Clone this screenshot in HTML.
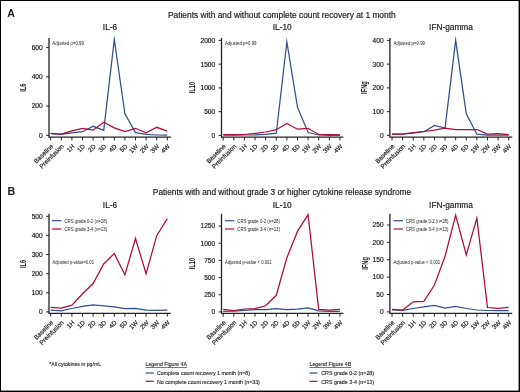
<!DOCTYPE html>
<html><head><meta charset="utf-8"><style>
html,body{margin:0;padding:0;background:#fff;}
svg{display:block;}
text{font-family:"Liberation Sans", sans-serif;fill:#1a1a1a;}
.w{stroke:#1a1a1a;stroke-width:0.18px;}
.v{stroke:#1a1a1a;stroke-width:0.1px;}
</style></head><body>
<svg width="520" height="392" viewBox="0 0 520 392">
<defs><filter id="tb" x="-5%" y="-5%" width="110%" height="110%"><feGaussianBlur stdDeviation="0.3"/></filter></defs>
<rect x="0" y="0" width="520" height="392" fill="#fff"/>
<rect x="0" y="0" width="520" height="1" fill="#000"/><rect x="0" y="0" width="1" height="392" fill="#000"/><rect x="518.6" y="0" width="1.4" height="392" fill="#000"/><rect x="0" y="390.6" width="520" height="1.4" fill="#000"/>
<g>
<path d="M49.0 38.0 V137.1 H170.80" fill="none" stroke="#222" stroke-width="1.3"/>
<path d="M46.10 135.30 H49.0" stroke="#222" stroke-width="1"/>
<path d="M46.10 106.07 H49.0" stroke="#222" stroke-width="1"/>
<path d="M46.10 76.84 H49.0" stroke="#222" stroke-width="1"/>
<path d="M46.10 47.61 H49.0" stroke="#222" stroke-width="1"/>
<path d="M50.70 137.1 V140.40" stroke="#222" stroke-width="1"/>
<path d="M61.30 137.1 V140.40" stroke="#222" stroke-width="1"/>
<path d="M71.90 137.1 V140.40" stroke="#222" stroke-width="1"/>
<path d="M82.50 137.1 V140.40" stroke="#222" stroke-width="1"/>
<path d="M93.10 137.1 V140.40" stroke="#222" stroke-width="1"/>
<path d="M103.70 137.1 V140.40" stroke="#222" stroke-width="1"/>
<path d="M114.30 137.1 V140.40" stroke="#222" stroke-width="1"/>
<path d="M124.90 137.1 V140.40" stroke="#222" stroke-width="1"/>
<path d="M135.50 137.1 V140.40" stroke="#222" stroke-width="1"/>
<path d="M146.10 137.1 V140.40" stroke="#222" stroke-width="1"/>
<path d="M156.70 137.1 V140.40" stroke="#222" stroke-width="1"/>
<path d="M167.30 137.1 V140.40" stroke="#222" stroke-width="1"/>
<polyline points="50.70,133.70 61.30,134.30 71.90,132.90 82.50,131.70 93.10,126.30 103.70,130.30 114.30,39.60 124.90,113.90 135.50,132.60 146.10,134.30 156.70,135.00 167.30,135.20" fill="none" stroke="#30508d" stroke-width="1.25" stroke-linejoin="miter" stroke-miterlimit="10"/>
<polyline points="50.70,133.30 61.30,134.00 71.90,130.90 82.50,128.40 93.10,130.20 103.70,122.30 114.30,127.80 124.90,131.50 135.50,128.30 146.10,132.90 156.70,127.30 167.30,131.10" fill="none" stroke="#b00a3a" stroke-width="1.25" stroke-linejoin="miter" stroke-miterlimit="10"/>
<path d="M221.5 38.0 V137.1 H343.41" fill="none" stroke="#222" stroke-width="1.3"/>
<path d="M218.60 135.40 H221.5" stroke="#222" stroke-width="1"/>
<path d="M218.60 111.65 H221.5" stroke="#222" stroke-width="1"/>
<path d="M218.60 87.90 H221.5" stroke="#222" stroke-width="1"/>
<path d="M218.60 64.15 H221.5" stroke="#222" stroke-width="1"/>
<path d="M218.60 40.40 H221.5" stroke="#222" stroke-width="1"/>
<path d="M223.20 137.1 V140.40" stroke="#222" stroke-width="1"/>
<path d="M233.81 137.1 V140.40" stroke="#222" stroke-width="1"/>
<path d="M244.42 137.1 V140.40" stroke="#222" stroke-width="1"/>
<path d="M255.03 137.1 V140.40" stroke="#222" stroke-width="1"/>
<path d="M265.64 137.1 V140.40" stroke="#222" stroke-width="1"/>
<path d="M276.25 137.1 V140.40" stroke="#222" stroke-width="1"/>
<path d="M286.86 137.1 V140.40" stroke="#222" stroke-width="1"/>
<path d="M297.47 137.1 V140.40" stroke="#222" stroke-width="1"/>
<path d="M308.08 137.1 V140.40" stroke="#222" stroke-width="1"/>
<path d="M318.69 137.1 V140.40" stroke="#222" stroke-width="1"/>
<path d="M329.30 137.1 V140.40" stroke="#222" stroke-width="1"/>
<path d="M339.91 137.1 V140.40" stroke="#222" stroke-width="1"/>
<polyline points="223.20,135.20 233.81,135.20 244.42,135.00 255.03,134.80 265.64,134.30 276.25,133.20 286.86,42.00 297.47,107.20 308.08,132.50 318.69,135.00 329.30,135.30 339.91,135.30" fill="none" stroke="#30508d" stroke-width="1.25" stroke-linejoin="miter" stroke-miterlimit="10"/>
<polyline points="223.20,134.50 233.81,134.60 244.42,134.50 255.03,133.40 265.64,132.00 276.25,129.70 286.86,123.50 297.47,129.20 308.08,128.30 318.69,134.50 329.30,134.60 339.91,134.80" fill="none" stroke="#b00a3a" stroke-width="1.25" stroke-linejoin="miter" stroke-miterlimit="10"/>
<path d="M389.9 38.0 V137.1 H512.21" fill="none" stroke="#222" stroke-width="1.3"/>
<path d="M387.00 135.40 H389.9" stroke="#222" stroke-width="1"/>
<path d="M387.00 111.65 H389.9" stroke="#222" stroke-width="1"/>
<path d="M387.00 87.90 H389.9" stroke="#222" stroke-width="1"/>
<path d="M387.00 64.15 H389.9" stroke="#222" stroke-width="1"/>
<path d="M387.00 40.40 H389.9" stroke="#222" stroke-width="1"/>
<path d="M392.00 137.1 V140.40" stroke="#222" stroke-width="1"/>
<path d="M402.61 137.1 V140.40" stroke="#222" stroke-width="1"/>
<path d="M413.22 137.1 V140.40" stroke="#222" stroke-width="1"/>
<path d="M423.83 137.1 V140.40" stroke="#222" stroke-width="1"/>
<path d="M434.44 137.1 V140.40" stroke="#222" stroke-width="1"/>
<path d="M445.05 137.1 V140.40" stroke="#222" stroke-width="1"/>
<path d="M455.66 137.1 V140.40" stroke="#222" stroke-width="1"/>
<path d="M466.27 137.1 V140.40" stroke="#222" stroke-width="1"/>
<path d="M476.88 137.1 V140.40" stroke="#222" stroke-width="1"/>
<path d="M487.49 137.1 V140.40" stroke="#222" stroke-width="1"/>
<path d="M498.10 137.1 V140.40" stroke="#222" stroke-width="1"/>
<path d="M508.71 137.1 V140.40" stroke="#222" stroke-width="1"/>
<polyline points="392.00,134.20 402.61,134.20 413.22,133.20 423.83,131.70 434.44,125.40 445.05,128.00 455.66,40.30 466.27,113.70 476.88,134.20 487.49,135.00 498.10,135.00 508.71,135.20" fill="none" stroke="#30508d" stroke-width="1.25" stroke-linejoin="miter" stroke-miterlimit="10"/>
<polyline points="392.00,134.00 402.61,134.00 413.22,132.50 423.83,131.50 434.44,130.20 445.05,128.20 455.66,129.50 466.27,129.50 476.88,129.50 487.49,134.00 498.10,133.70 508.71,134.70" fill="none" stroke="#b00a3a" stroke-width="1.25" stroke-linejoin="miter" stroke-miterlimit="10"/>
<path d="M49.0 213.8 V313.4 H170.80" fill="none" stroke="#222" stroke-width="1.3"/>
<path d="M46.10 311.90 H49.0" stroke="#222" stroke-width="1"/>
<path d="M46.10 292.78 H49.0" stroke="#222" stroke-width="1"/>
<path d="M46.10 273.66 H49.0" stroke="#222" stroke-width="1"/>
<path d="M46.10 254.54 H49.0" stroke="#222" stroke-width="1"/>
<path d="M46.10 235.42 H49.0" stroke="#222" stroke-width="1"/>
<path d="M46.10 216.30 H49.0" stroke="#222" stroke-width="1"/>
<path d="M50.70 313.4 V316.70" stroke="#222" stroke-width="1"/>
<path d="M61.30 313.4 V316.70" stroke="#222" stroke-width="1"/>
<path d="M71.90 313.4 V316.70" stroke="#222" stroke-width="1"/>
<path d="M82.50 313.4 V316.70" stroke="#222" stroke-width="1"/>
<path d="M93.10 313.4 V316.70" stroke="#222" stroke-width="1"/>
<path d="M103.70 313.4 V316.70" stroke="#222" stroke-width="1"/>
<path d="M114.30 313.4 V316.70" stroke="#222" stroke-width="1"/>
<path d="M124.90 313.4 V316.70" stroke="#222" stroke-width="1"/>
<path d="M135.50 313.4 V316.70" stroke="#222" stroke-width="1"/>
<path d="M146.10 313.4 V316.70" stroke="#222" stroke-width="1"/>
<path d="M156.70 313.4 V316.70" stroke="#222" stroke-width="1"/>
<path d="M167.30 313.4 V316.70" stroke="#222" stroke-width="1"/>
<polyline points="50.70,310.10 61.30,310.80 71.90,308.50 82.50,306.30 93.10,305.00 103.70,305.90 114.30,306.80 124.90,308.70 135.50,308.50 146.10,310.10 156.70,310.40 167.30,310.10" fill="none" stroke="#30508d" stroke-width="1.25" stroke-linejoin="miter" stroke-miterlimit="10"/>
<polyline points="50.70,307.30 61.30,308.00 71.90,305.10 82.50,293.80 93.10,283.50 103.70,264.00 114.30,253.60 124.90,274.90 135.50,238.50 146.10,273.80 156.70,235.70 167.30,218.60" fill="none" stroke="#b00a3a" stroke-width="1.25" stroke-linejoin="miter" stroke-miterlimit="10"/>
<path d="M52.0 220.7 h9.4" stroke="#30508d" stroke-width="1.2"/>
<path d="M52.0 229.00 h9.4" stroke="#b00a3a" stroke-width="1.2"/>
<path d="M221.5 213.8 V313.4 H343.41" fill="none" stroke="#222" stroke-width="1.3"/>
<path d="M218.60 311.90 H221.5" stroke="#222" stroke-width="1"/>
<path d="M218.60 294.74 H221.5" stroke="#222" stroke-width="1"/>
<path d="M218.60 277.58 H221.5" stroke="#222" stroke-width="1"/>
<path d="M218.60 260.42 H221.5" stroke="#222" stroke-width="1"/>
<path d="M218.60 243.26 H221.5" stroke="#222" stroke-width="1"/>
<path d="M218.60 226.10 H221.5" stroke="#222" stroke-width="1"/>
<path d="M223.20 313.4 V316.70" stroke="#222" stroke-width="1"/>
<path d="M233.81 313.4 V316.70" stroke="#222" stroke-width="1"/>
<path d="M244.42 313.4 V316.70" stroke="#222" stroke-width="1"/>
<path d="M255.03 313.4 V316.70" stroke="#222" stroke-width="1"/>
<path d="M265.64 313.4 V316.70" stroke="#222" stroke-width="1"/>
<path d="M276.25 313.4 V316.70" stroke="#222" stroke-width="1"/>
<path d="M286.86 313.4 V316.70" stroke="#222" stroke-width="1"/>
<path d="M297.47 313.4 V316.70" stroke="#222" stroke-width="1"/>
<path d="M308.08 313.4 V316.70" stroke="#222" stroke-width="1"/>
<path d="M318.69 313.4 V316.70" stroke="#222" stroke-width="1"/>
<path d="M329.30 313.4 V316.70" stroke="#222" stroke-width="1"/>
<path d="M339.91 313.4 V316.70" stroke="#222" stroke-width="1"/>
<polyline points="223.20,311.30 233.81,311.20 244.42,310.40 255.03,309.70 265.64,309.60 276.25,308.60 286.86,309.50 297.47,309.10 308.08,307.80 318.69,310.90 329.30,311.30 339.91,311.30" fill="none" stroke="#30508d" stroke-width="1.25" stroke-linejoin="miter" stroke-miterlimit="10"/>
<polyline points="223.20,309.40 233.81,310.70 244.42,309.00 255.03,308.70 265.64,305.80 276.25,295.30 286.86,257.80 297.47,231.40 308.08,214.70 318.69,309.40 329.30,310.20 339.91,309.40" fill="none" stroke="#b00a3a" stroke-width="1.25" stroke-linejoin="miter" stroke-miterlimit="10"/>
<path d="M224.9 220.7 h9.4" stroke="#30508d" stroke-width="1.2"/>
<path d="M224.9 229.00 h9.4" stroke="#b00a3a" stroke-width="1.2"/>
<path d="M389.9 213.8 V313.4 H512.21" fill="none" stroke="#222" stroke-width="1.3"/>
<path d="M387.00 311.90 H389.9" stroke="#222" stroke-width="1"/>
<path d="M387.00 294.52 H389.9" stroke="#222" stroke-width="1"/>
<path d="M387.00 277.14 H389.9" stroke="#222" stroke-width="1"/>
<path d="M387.00 259.76 H389.9" stroke="#222" stroke-width="1"/>
<path d="M387.00 242.38 H389.9" stroke="#222" stroke-width="1"/>
<path d="M387.00 225.00 H389.9" stroke="#222" stroke-width="1"/>
<path d="M392.00 313.4 V316.70" stroke="#222" stroke-width="1"/>
<path d="M402.61 313.4 V316.70" stroke="#222" stroke-width="1"/>
<path d="M413.22 313.4 V316.70" stroke="#222" stroke-width="1"/>
<path d="M423.83 313.4 V316.70" stroke="#222" stroke-width="1"/>
<path d="M434.44 313.4 V316.70" stroke="#222" stroke-width="1"/>
<path d="M445.05 313.4 V316.70" stroke="#222" stroke-width="1"/>
<path d="M455.66 313.4 V316.70" stroke="#222" stroke-width="1"/>
<path d="M466.27 313.4 V316.70" stroke="#222" stroke-width="1"/>
<path d="M476.88 313.4 V316.70" stroke="#222" stroke-width="1"/>
<path d="M487.49 313.4 V316.70" stroke="#222" stroke-width="1"/>
<path d="M498.10 313.4 V316.70" stroke="#222" stroke-width="1"/>
<path d="M508.71 313.4 V316.70" stroke="#222" stroke-width="1"/>
<polyline points="392.00,310.00 402.61,310.30 413.22,308.50 423.83,306.80 434.44,305.30 445.05,308.00 455.66,306.30 466.27,308.50 476.88,310.00 487.49,310.50 498.10,310.60 508.71,310.60" fill="none" stroke="#30508d" stroke-width="1.25" stroke-linejoin="miter" stroke-miterlimit="10"/>
<polyline points="392.00,309.30 402.61,310.00 413.22,301.80 423.83,301.30 434.44,285.00 445.05,256.30 455.66,215.30 466.27,254.90 476.88,218.20 487.49,307.50 498.10,308.30 508.71,307.30" fill="none" stroke="#b00a3a" stroke-width="1.25" stroke-linejoin="miter" stroke-miterlimit="10"/>
<path d="M393.4 220.7 h9.4" stroke="#30508d" stroke-width="1.2"/>
<path d="M393.4 229.00 h9.4" stroke="#b00a3a" stroke-width="1.2"/>
<path d="M145.5 373 h8.3" stroke="#30508d" stroke-width="1.2"/>
<path d="M145.5 381.3 h8.3" stroke="#b00a3a" stroke-width="1.2"/>
<path d="M309.5 373 h8" stroke="#30508d" stroke-width="1.2"/>
<path d="M309.5 381.3 h8" stroke="#b00a3a" stroke-width="1.2"/>
</g>
<g filter="url(#tb)">
<text x="42.70" y="137.65" text-anchor="end" font-size="6.6" class="w">0</text>
<text x="42.70" y="108.42" text-anchor="end" font-size="6.6" class="w">200</text>
<text x="42.70" y="79.19" text-anchor="end" font-size="6.6" class="w">400</text>
<text x="42.70" y="49.96" text-anchor="end" font-size="6.6" class="w">600</text>
<text transform="translate(53.70 146.70) rotate(-45)" text-anchor="end" font-size="6.3" class="w">Baseline</text>
<text transform="translate(64.30 146.70) rotate(-45)" text-anchor="end" font-size="6.3" class="w">Preinfusion</text>
<text transform="translate(74.90 146.70) rotate(-45)" text-anchor="end" font-size="6.3" class="w">1H</text>
<text transform="translate(85.50 146.70) rotate(-45)" text-anchor="end" font-size="6.3" class="w">1D</text>
<text transform="translate(96.10 146.70) rotate(-45)" text-anchor="end" font-size="6.3" class="w">2D</text>
<text transform="translate(106.70 146.70) rotate(-45)" text-anchor="end" font-size="6.3" class="w">3D</text>
<text transform="translate(117.30 146.70) rotate(-45)" text-anchor="end" font-size="6.3" class="w">4D</text>
<text transform="translate(127.90 146.70) rotate(-45)" text-anchor="end" font-size="6.3" class="w">5D</text>
<text transform="translate(138.50 146.70) rotate(-45)" text-anchor="end" font-size="6.3" class="w">1W</text>
<text transform="translate(149.10 146.70) rotate(-45)" text-anchor="end" font-size="6.3" class="w">2W</text>
<text transform="translate(159.70 146.70) rotate(-45)" text-anchor="end" font-size="6.3" class="w">3W</text>
<text transform="translate(170.30 146.70) rotate(-45)" text-anchor="end" font-size="6.3" class="w">4W</text>
<text transform="translate(23.0 87.6) rotate(-90) scale(0.665 1)" text-anchor="middle" dy="3.1" font-size="8.6" font-weight="bold">IL6</text>
<text x="110" y="30.1" text-anchor="middle" font-size="8.3" class="w">IL-6</text>
<text transform="translate(52.3 45.3) scale(0.971 1)" font-size="4.5">Adjusted p=0.99</text>
<text x="215.20" y="137.75" text-anchor="end" font-size="6.6" class="w">0</text>
<text x="215.20" y="114.00" text-anchor="end" font-size="6.6" class="w">500</text>
<text x="215.20" y="90.25" text-anchor="end" font-size="6.6" class="w">1000</text>
<text x="215.20" y="66.50" text-anchor="end" font-size="6.6" class="w">1500</text>
<text x="215.20" y="42.75" text-anchor="end" font-size="6.6" class="w">2000</text>
<text transform="translate(226.20 146.70) rotate(-45)" text-anchor="end" font-size="6.3" class="w">Baseline</text>
<text transform="translate(236.81 146.70) rotate(-45)" text-anchor="end" font-size="6.3" class="w">Preinfusion</text>
<text transform="translate(247.42 146.70) rotate(-45)" text-anchor="end" font-size="6.3" class="w">1H</text>
<text transform="translate(258.03 146.70) rotate(-45)" text-anchor="end" font-size="6.3" class="w">1D</text>
<text transform="translate(268.64 146.70) rotate(-45)" text-anchor="end" font-size="6.3" class="w">2D</text>
<text transform="translate(279.25 146.70) rotate(-45)" text-anchor="end" font-size="6.3" class="w">3D</text>
<text transform="translate(289.86 146.70) rotate(-45)" text-anchor="end" font-size="6.3" class="w">4D</text>
<text transform="translate(300.47 146.70) rotate(-45)" text-anchor="end" font-size="6.3" class="w">5D</text>
<text transform="translate(311.08 146.70) rotate(-45)" text-anchor="end" font-size="6.3" class="w">1W</text>
<text transform="translate(321.69 146.70) rotate(-45)" text-anchor="end" font-size="6.3" class="w">2W</text>
<text transform="translate(332.30 146.70) rotate(-45)" text-anchor="end" font-size="6.3" class="w">3W</text>
<text transform="translate(342.91 146.70) rotate(-45)" text-anchor="end" font-size="6.3" class="w">4W</text>
<text transform="translate(191.6 87.5) rotate(-90) scale(0.665 1)" text-anchor="middle" dy="3.1" font-size="8.6" font-weight="bold">IL10</text>
<text x="282.2" y="30.0" text-anchor="middle" font-size="8.3" class="w">IL-10</text>
<text transform="translate(224.9 45.3) scale(0.971 1)" font-size="4.5">Adjusted p=0.99</text>
<text x="383.60" y="137.75" text-anchor="end" font-size="6.6" class="w">0</text>
<text x="383.60" y="114.00" text-anchor="end" font-size="6.6" class="w">100</text>
<text x="383.60" y="90.25" text-anchor="end" font-size="6.6" class="w">200</text>
<text x="383.60" y="66.50" text-anchor="end" font-size="6.6" class="w">300</text>
<text x="383.60" y="42.75" text-anchor="end" font-size="6.6" class="w">400</text>
<text transform="translate(395.00 146.70) rotate(-45)" text-anchor="end" font-size="6.3" class="w">Baseline</text>
<text transform="translate(405.61 146.70) rotate(-45)" text-anchor="end" font-size="6.3" class="w">Preinfusion</text>
<text transform="translate(416.22 146.70) rotate(-45)" text-anchor="end" font-size="6.3" class="w">1H</text>
<text transform="translate(426.83 146.70) rotate(-45)" text-anchor="end" font-size="6.3" class="w">1D</text>
<text transform="translate(437.44 146.70) rotate(-45)" text-anchor="end" font-size="6.3" class="w">2D</text>
<text transform="translate(448.05 146.70) rotate(-45)" text-anchor="end" font-size="6.3" class="w">3D</text>
<text transform="translate(458.66 146.70) rotate(-45)" text-anchor="end" font-size="6.3" class="w">4D</text>
<text transform="translate(469.27 146.70) rotate(-45)" text-anchor="end" font-size="6.3" class="w">5D</text>
<text transform="translate(479.88 146.70) rotate(-45)" text-anchor="end" font-size="6.3" class="w">1W</text>
<text transform="translate(490.49 146.70) rotate(-45)" text-anchor="end" font-size="6.3" class="w">2W</text>
<text transform="translate(501.10 146.70) rotate(-45)" text-anchor="end" font-size="6.3" class="w">3W</text>
<text transform="translate(511.71 146.70) rotate(-45)" text-anchor="end" font-size="6.3" class="w">4W</text>
<text transform="translate(364.1 87.6) rotate(-90) scale(0.665 1)" text-anchor="middle" dy="3.1" font-size="8.6" font-weight="bold">IFNg</text>
<text x="451.0" y="29.9" text-anchor="middle" font-size="8.3" class="w">IFN-gamma</text>
<text transform="translate(393.4 45.3) scale(0.971 1)" font-size="4.5">Adjusted p=0.99</text>
<text x="42.70" y="314.25" text-anchor="end" font-size="6.6" class="w">0</text>
<text x="42.70" y="295.13" text-anchor="end" font-size="6.6" class="w">100</text>
<text x="42.70" y="276.01" text-anchor="end" font-size="6.6" class="w">200</text>
<text x="42.70" y="256.89" text-anchor="end" font-size="6.6" class="w">300</text>
<text x="42.70" y="237.77" text-anchor="end" font-size="6.6" class="w">400</text>
<text x="42.70" y="218.65" text-anchor="end" font-size="6.6" class="w">500</text>
<text transform="translate(53.70 323.00) rotate(-45)" text-anchor="end" font-size="6.3" class="w">Baseline</text>
<text transform="translate(64.30 323.00) rotate(-45)" text-anchor="end" font-size="6.3" class="w">Preinfusion</text>
<text transform="translate(74.90 323.00) rotate(-45)" text-anchor="end" font-size="6.3" class="w">1H</text>
<text transform="translate(85.50 323.00) rotate(-45)" text-anchor="end" font-size="6.3" class="w">1D</text>
<text transform="translate(96.10 323.00) rotate(-45)" text-anchor="end" font-size="6.3" class="w">2D</text>
<text transform="translate(106.70 323.00) rotate(-45)" text-anchor="end" font-size="6.3" class="w">3D</text>
<text transform="translate(117.30 323.00) rotate(-45)" text-anchor="end" font-size="6.3" class="w">4D</text>
<text transform="translate(127.90 323.00) rotate(-45)" text-anchor="end" font-size="6.3" class="w">5D</text>
<text transform="translate(138.50 323.00) rotate(-45)" text-anchor="end" font-size="6.3" class="w">1W</text>
<text transform="translate(149.10 323.00) rotate(-45)" text-anchor="end" font-size="6.3" class="w">2W</text>
<text transform="translate(159.70 323.00) rotate(-45)" text-anchor="end" font-size="6.3" class="w">3W</text>
<text transform="translate(170.30 323.00) rotate(-45)" text-anchor="end" font-size="6.3" class="w">4W</text>
<text transform="translate(22.9 263.9) rotate(-90) scale(0.665 1)" text-anchor="middle" dy="3.1" font-size="8.6" font-weight="bold">IL6</text>
<text x="110" y="207.6" text-anchor="middle" font-size="8.3" class="w">IL-6</text>
<text transform="translate(52.4 264.0) scale(0.929 1)" font-size="4.5">Adjusted p-value=0.01</text>
<text transform="translate(64.40 222.80) scale(0.964 1)" font-size="4.5">CRS grade 0-2 (n=28)</text>
<text transform="translate(64.40 231.10) scale(0.964 1)" font-size="4.5">CRS grade 3-4 (n=13)</text>
<text x="215.20" y="314.25" text-anchor="end" font-size="6.6" class="w">0</text>
<text x="215.20" y="297.09" text-anchor="end" font-size="6.6" class="w">250</text>
<text x="215.20" y="279.93" text-anchor="end" font-size="6.6" class="w">500</text>
<text x="215.20" y="262.77" text-anchor="end" font-size="6.6" class="w">750</text>
<text x="215.20" y="245.61" text-anchor="end" font-size="6.6" class="w">1000</text>
<text x="215.20" y="228.45" text-anchor="end" font-size="6.6" class="w">1250</text>
<text transform="translate(226.20 323.00) rotate(-45)" text-anchor="end" font-size="6.3" class="w">Baseline</text>
<text transform="translate(236.81 323.00) rotate(-45)" text-anchor="end" font-size="6.3" class="w">Preinfusion</text>
<text transform="translate(247.42 323.00) rotate(-45)" text-anchor="end" font-size="6.3" class="w">1H</text>
<text transform="translate(258.03 323.00) rotate(-45)" text-anchor="end" font-size="6.3" class="w">1D</text>
<text transform="translate(268.64 323.00) rotate(-45)" text-anchor="end" font-size="6.3" class="w">2D</text>
<text transform="translate(279.25 323.00) rotate(-45)" text-anchor="end" font-size="6.3" class="w">3D</text>
<text transform="translate(289.86 323.00) rotate(-45)" text-anchor="end" font-size="6.3" class="w">4D</text>
<text transform="translate(300.47 323.00) rotate(-45)" text-anchor="end" font-size="6.3" class="w">5D</text>
<text transform="translate(311.08 323.00) rotate(-45)" text-anchor="end" font-size="6.3" class="w">1W</text>
<text transform="translate(321.69 323.00) rotate(-45)" text-anchor="end" font-size="6.3" class="w">2W</text>
<text transform="translate(332.30 323.00) rotate(-45)" text-anchor="end" font-size="6.3" class="w">3W</text>
<text transform="translate(342.91 323.00) rotate(-45)" text-anchor="end" font-size="6.3" class="w">4W</text>
<text transform="translate(191.6 263.5) rotate(-90) scale(0.665 1)" text-anchor="middle" dy="3.1" font-size="8.6" font-weight="bold">IL10</text>
<text x="282.2" y="207.6" text-anchor="middle" font-size="8.3" class="w">IL-10</text>
<text transform="translate(224.9 263.9) scale(0.938 1)" font-size="4.5">Adjusted p-value &lt; 0.001</text>
<text transform="translate(237.30 222.80) scale(0.964 1)" font-size="4.5">CRS grade 0-2 (n=28)</text>
<text transform="translate(237.30 231.10) scale(0.964 1)" font-size="4.5">CRS grade 3-4 (n=13)</text>
<text x="383.60" y="314.25" text-anchor="end" font-size="6.6" class="w">0</text>
<text x="383.60" y="296.87" text-anchor="end" font-size="6.6" class="w">50</text>
<text x="383.60" y="279.49" text-anchor="end" font-size="6.6" class="w">100</text>
<text x="383.60" y="262.11" text-anchor="end" font-size="6.6" class="w">150</text>
<text x="383.60" y="244.73" text-anchor="end" font-size="6.6" class="w">200</text>
<text x="383.60" y="227.35" text-anchor="end" font-size="6.6" class="w">250</text>
<text transform="translate(395.00 323.00) rotate(-45)" text-anchor="end" font-size="6.3" class="w">Baseline</text>
<text transform="translate(405.61 323.00) rotate(-45)" text-anchor="end" font-size="6.3" class="w">Preinfusion</text>
<text transform="translate(416.22 323.00) rotate(-45)" text-anchor="end" font-size="6.3" class="w">1H</text>
<text transform="translate(426.83 323.00) rotate(-45)" text-anchor="end" font-size="6.3" class="w">1D</text>
<text transform="translate(437.44 323.00) rotate(-45)" text-anchor="end" font-size="6.3" class="w">2D</text>
<text transform="translate(448.05 323.00) rotate(-45)" text-anchor="end" font-size="6.3" class="w">3D</text>
<text transform="translate(458.66 323.00) rotate(-45)" text-anchor="end" font-size="6.3" class="w">4D</text>
<text transform="translate(469.27 323.00) rotate(-45)" text-anchor="end" font-size="6.3" class="w">5D</text>
<text transform="translate(479.88 323.00) rotate(-45)" text-anchor="end" font-size="6.3" class="w">1W</text>
<text transform="translate(490.49 323.00) rotate(-45)" text-anchor="end" font-size="6.3" class="w">2W</text>
<text transform="translate(501.10 323.00) rotate(-45)" text-anchor="end" font-size="6.3" class="w">3W</text>
<text transform="translate(511.71 323.00) rotate(-45)" text-anchor="end" font-size="6.3" class="w">4W</text>
<text transform="translate(364.4 263.4) rotate(-90) scale(0.665 1)" text-anchor="middle" dy="3.1" font-size="8.6" font-weight="bold">IFNg</text>
<text x="451.0" y="207.5" text-anchor="middle" font-size="8.3" class="w">IFN-gamma</text>
<text transform="translate(393.4 263.9) scale(0.938 1)" font-size="4.5">Adjusted p-value &lt; 0.001</text>
<text transform="translate(405.80 222.80) scale(0.964 1)" font-size="4.5">CRS grade 0-2 (n=28)</text>
<text transform="translate(405.80 231.10) scale(0.964 1)" font-size="4.5">CRS grade 3-4 (n=13)</text>
<text x="7.2" y="17.2" font-size="10.6" font-weight="bold">A</text>
<text x="281.8" y="17.7" text-anchor="middle" font-size="8.37" class="w">Patients with and without complete count recovery at 1 month</text>
<text x="7.6" y="194.5" font-size="10.6" font-weight="bold">B</text>
<text x="282" y="195.4" text-anchor="middle" font-size="8.31" class="w">Patients with and without grade 3 or higher cytokine release syndrome</text>
<text x="49.2" y="366.2" font-size="5.17" class="v">*All cytokines in pg/mL</text>
<text x="145.5" y="366.4" font-size="5.22" class="v" text-decoration="underline">Legend Figure 4A</text>
<text x="157" y="375.2" font-size="5.27" class="v">Complete count recovery 1 month (n=8)</text>
<text x="157" y="383.5" font-size="5.27" class="v">No complete count recovery 1 month (n=33)</text>
<text x="309.5" y="366.4" font-size="5.25" class="v" text-decoration="underline">Legend Figure 4B</text>
<text x="321.25" y="375.2" font-size="5.37" class="v">CRS grade 0-2 (n=28)</text>
<text x="321.25" y="383.5" font-size="5.37" class="v">CRS grade 3-4 (n=13)</text>
</g>
</svg>
</body></html>
